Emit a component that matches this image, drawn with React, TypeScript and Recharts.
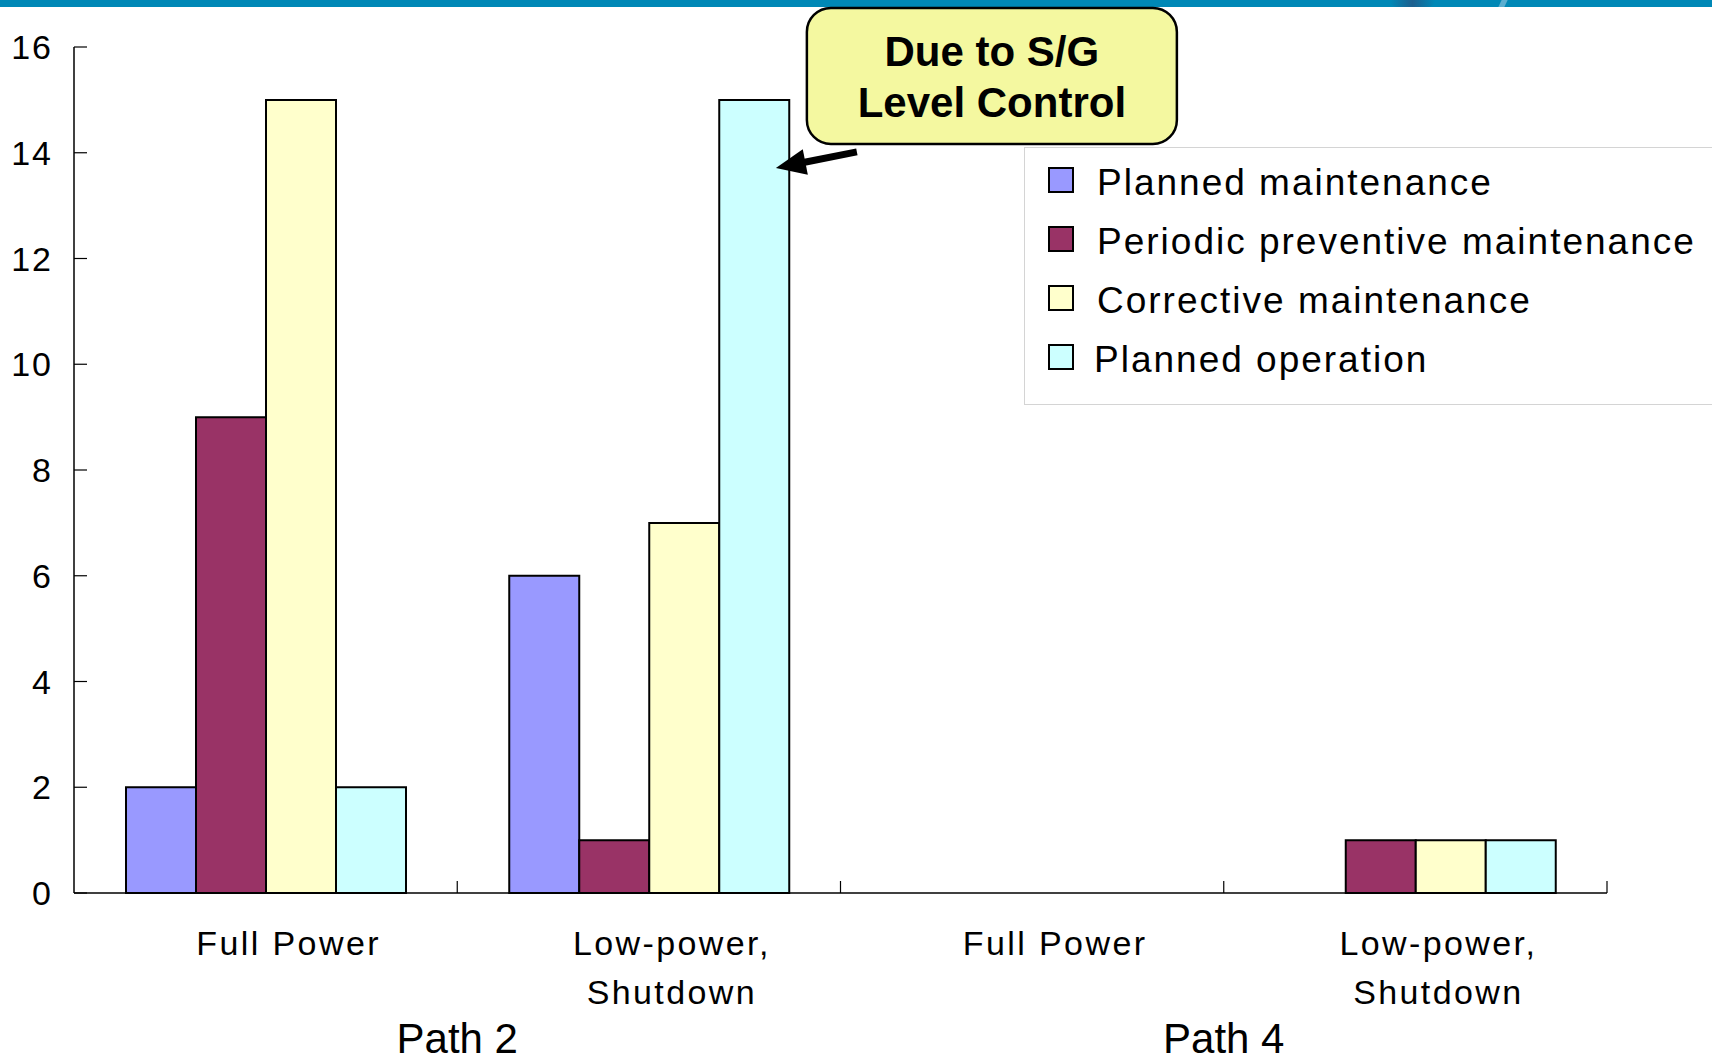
import React from "react"
import { BarChart, Bar, XAxis, YAxis, Legend, ReferenceDot } from "recharts"

// paths and operating modes along the x axis
const paths = ["Path 2", "Path 4"]
const modes = ["Full Power", "Low-power,\nShutdown", "Full Power", "Low-power,\nShutdown"]

// counts per cause, one value per mode
const plannedMaintenance = [2, 6, 0, 0]
const periodicMaintenance = [9, 1, 0, 1]
const correctiveMaintenance = [15, 7, 0, 1]
const plannedOperation = [2, 15, 0, 1]

const yTicks = [0, 2, 4, 6, 8, 10, 12, 14, 16]

const series = [
  { key: "pm", name: "Planned maintenance", color: "#9999FF", values: plannedMaintenance },
  { key: "ppm", name: "Periodic preventive maintenance", color: "#993366", values: periodicMaintenance },
  { key: "cm", name: "Corrective maintenance", color: "#FFFFCC", values: correctiveMaintenance },
  { key: "po", name: "Planned operation", color: "#CCFFFF", values: plannedOperation },
]

const data = modes.map((mode, i) => {
  const row: Record<string, string | number> = { id: `m${i}`, mode }
  series.forEach((s) => (row[s.key] = s.values[i]))
  return row
})

const W = 1712
const H = 1061
const LEFT = 74
const RIGHT = 105
const TOP = 47
const AXIS_H = 168
const BAND = (W - LEFT - RIGHT) / modes.length

const FONT = "'Liberation Sans', Arial, sans-serif"

function YTick({ x, y, payload }: any) {
  return (
    <g>
      <line x1={x} x2={x + 13} y1={y} y2={y} stroke="#000" strokeWidth={1.2} />
      <text x={x - 21} y={y + 12} textAnchor="end" fontSize={34} letterSpacing={2} fontFamily={FONT} fill="#000">
        {payload.value}
      </text>
    </g>
  )
}

function XTick({ x, y, index }: any) {
  const lines = modes[index].split("\n")
  const edge = x + BAND / 2
  return (
    <g>
      <line x1={edge} x2={edge} y1={y} y2={y - 12} stroke="#000" strokeWidth={1.2} />
      {lines.map((l, i) => (
        <text key={i} x={x + 23} y={y + 62 + i * 49} textAnchor="middle" fontSize={34} letterSpacing={2.4} fontFamily={FONT} fill="#000">
          {l}
        </text>
      ))}
      {index % 2 === 0 && (
        <text x={edge} y={y + 160} textAnchor="middle" fontSize={42} fontFamily={FONT} fill="#000">
          {paths[index / 2]}
        </text>
      )}
    </g>
  )
}

// legend keeps the series order instead of sorting by name
function LegendBox() {
  return (
    <div
      style={{
        width: W - 1024,
        height: 258,
        boxSizing: "border-box",
        border: "1px solid #d4d4d4",
        borderRight: "none",
        background: "#fff",
        paddingTop: 2,
        fontFamily: FONT,
      }}
    >
      {series.map((s, i) => (
        <div key={s.key} style={{ display: "flex", alignItems: "center", height: 59, paddingLeft: 23 }}>
          <span
            style={{
              width: 22,
              height: 22,
              background: s.color,
              border: "2px solid #000",
              display: "inline-block",
              marginRight: i === 3 ? 20 : 23,
            }}
          />
          <span style={{ fontSize: 37, letterSpacing: 2, color: "#000", marginTop: 6 }}>{s.name}</span>
        </div>
      ))}
    </div>
  )
}

// callout pinned to the planned operation bar of Path 2 low power
function Callout({ cx, cy }: any) {
  const bx = cx + 158
  const by = cy - 92
  const tip = { x: cx + 127, y: cy + 68 }
  const tail = { x: cx + 208, y: cy + 52 }
  const ang = Math.atan2(tail.y - tip.y, tail.x - tip.x)
  const hl = 30
  const hw = 13
  const bxp = tip.x + Math.cos(ang) * hl
  const byp = tip.y + Math.sin(ang) * hl
  const nx = -Math.sin(ang)
  const ny = Math.cos(ang)
  return (
    <g>
      <rect x={bx} y={by} width={370} height={136} rx={24} ry={24} fill="#F4F8A0" stroke="#000" strokeWidth={2.5} />
      <text x={bx + 185} y={by + 58} textAnchor="middle" fontSize={42} fontWeight="bold" fontFamily={FONT} fill="#000">
        Due to S/G
      </text>
      <text x={bx + 185} y={by + 109} textAnchor="middle" fontSize={42} fontWeight="bold" fontFamily={FONT} fill="#000">
        Level Control
      </text>
      <line x1={tail.x} y1={tail.y} x2={bxp + Math.cos(ang) * -2} y2={byp + Math.sin(ang) * -2} stroke="#000" strokeWidth={7} />
      <polygon
        points={`${tip.x},${tip.y} ${bxp + nx * hw},${byp + ny * hw} ${bxp - nx * hw},${byp - ny * hw}`}
        fill="#000"
      />
    </g>
  )
}

export default function App() {
  return (
    <div style={{ position: "fixed", left: 0, top: 0, width: W, height: H, background: "#fff", overflow: "hidden" }}>
      <div style={{ position: "absolute", left: 0, top: 0, width: W, height: 7, background: "#0088B6" }}>
        <div style={{ position: "absolute", left: 1390, top: 0, width: 45, height: 7, background: "linear-gradient(90deg,#0088B6,#1d5f8e,#0088B6)", borderRadius: "0 0 30px 30px" }} />
        <div style={{ position: "absolute", left: 1500, top: 0, width: 6, height: 7, background: "#5aaed0", transform: "skewX(-25deg)" }} />
      </div>
      <BarChart
        width={W}
        height={H}
        data={data}
        margin={{ top: TOP, right: RIGHT, bottom: 0, left: 0 }}
        barCategoryGap={52}
        barGap={0}
      >
        <XAxis
          dataKey="id"
          height={AXIS_H}
          interval={0}
          tickLine={false}
          tickSize={0}
          tickMargin={0}
          axisLine={{ stroke: "#000", strokeWidth: 1.5 }}
          tick={<XTick />}
        />
        <YAxis
          width={LEFT}
          domain={[0, 16]}
          ticks={yTicks}
          interval={0}
          tickLine={false}
          tickSize={0}
          tickMargin={0}
          axisLine={{ stroke: "#000", strokeWidth: 1.5 }}
          tick={<YTick />}
        />
        {series.map((s) => (
          <Bar key={s.key} dataKey={s.key} name={s.name} fill={s.color} stroke="#000" strokeWidth={2} isAnimationActive={false} />
        ))}
        <ReferenceDot x="m1" y={plannedOperation[1]} ifOverflow="visible" shape={(p: any) => <Callout {...p} />} />
        <Legend
          layout="vertical"
          align="center"
          verticalAlign="middle"
          wrapperStyle={{ position: "absolute", top: 147, left: 1024, width: W - 1024 }}
          content={<LegendBox />}
        />
      </BarChart>
    </div>
  )
}
